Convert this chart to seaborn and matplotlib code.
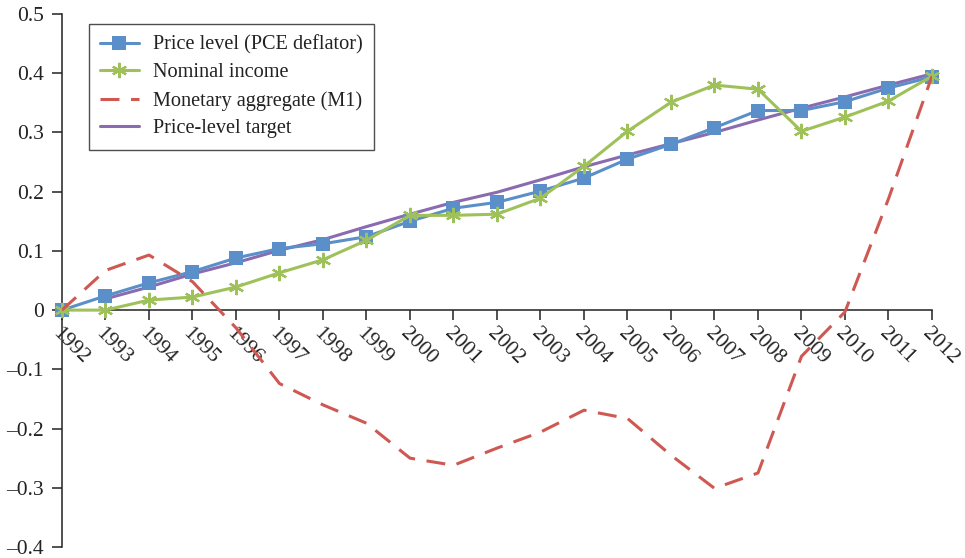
import numpy as np
import pandas as pd
import matplotlib
matplotlib.use("Agg")
import matplotlib.pyplot as plt
import seaborn as sns

# ---------- datos ----------
years = list(range(1992, 2013))

price_level = [0.000, 0.024, 0.046, 0.065, 0.088, 0.104, 0.112, 0.124, 0.150, 0.172,
               0.182, 0.201, 0.223, 0.255, 0.280, 0.308, 0.337, 0.337, 0.352, 0.375, 0.394]
nominal_income = [0.000, 0.000, 0.017, 0.022, 0.039, 0.063, 0.085, 0.118, 0.160, 0.160,
                  0.162, 0.189, 0.243, 0.302, 0.351, 0.380, 0.373, 0.302, 0.326, 0.353, 0.395]
m1 = [0.000, 0.067, 0.093, 0.048, -0.030, -0.124, -0.160, -0.191, -0.250, -0.262,
      -0.233, -0.206, -0.169, -0.183, -0.245, -0.301, -0.275, -0.078, -0.003, 0.188, 0.395]
target = [np.nan, 0.019, 0.039, 0.061, 0.080, 0.101, 0.119, 0.141, 0.162, 0.182,
          0.199, 0.220, 0.242, 0.262, 0.281, 0.300, 0.321, 0.341, 0.360, 0.380, 0.399]

labels = ["Price level (PCE deflator)", "Nominal income",
          "Monetary aggregate (M1)", "Price-level target"]
ytick_vals = [-0.4, -0.3, -0.2, -0.1, 0.0, 0.1, 0.2, 0.3, 0.4, 0.5]
ytick_labels = ['–0.4', '–0.3', '–0.2', '–0.1', '0', '0.1', '0.2', '0.3', '0.4', '0.5']

df = pd.DataFrame({"year": years, labels[0]: price_level, labels[1]: nominal_income,
                   labels[2]: m1, labels[3]: target})

# ---------- estilo ----------
sns.set_style("white")
plt.rcParams['font.family'] = ['Liberation Serif', 'DejaVu Serif']

c_blue, c_green, c_red, c_purple = '#5B8FCA', '#9EC15A', '#CF5853', '#8A6BAF'
c_txt = '#222222'

fig = plt.figure(figsize=(9.65, 5.58), dpi=100)
ax = fig.add_axes([62/965, 1-547/558, (932-62)/965, (547-14)/558])

sns.lineplot(data=df, x="year", y=labels[3], color=c_purple, lw=2.2, ax=ax,
             label=labels[3], zorder=2)
sns.lineplot(data=df, x="year", y=labels[0], color=c_blue, lw=2.2, marker='s',
             markersize=10, markeredgewidth=0, ax=ax, label=labels[0], zorder=3, clip_on=False)
sns.lineplot(data=df, x="year", y=labels[1], color=c_green, lw=2.2, marker=(6, 2, 0),
             markersize=11, markeredgewidth=1.6, markeredgecolor=c_green, ax=ax,
             label=labels[1], zorder=4, clip_on=False)
sns.lineplot(data=df, x="year", y=labels[2], color=c_red, lw=2.2, ax=ax,
             label=labels[2], zorder=5)
ax.lines[-1].set_dashes([6.2, 3.8])

ax.set_xlim(1992, 2012)
ax.set_ylim(-0.4, 0.5)
ax.set_xlabel('')
ax.set_ylabel('')

for s in ['top', 'right']:
    ax.spines[s].set_visible(False)
ax.spines['bottom'].set_position(('data', 0))
for s in ['left', 'bottom']:
    ax.spines[s].set_color(c_txt)
    ax.spines[s].set_linewidth(1.1)

ax.set_xticks(years)
ax.set_xticklabels([str(y) for y in years], rotation=-45, ha='left', va='top',
                   rotation_mode='anchor', fontsize=15.5, color=c_txt)
ax.set_yticks(ytick_vals)
ax.set_yticklabels(ytick_labels, fontsize=15.5, color=c_txt)
ax.tick_params(axis='x', direction='out', length=7, width=1.1, color=c_txt, pad=3)
ax.tick_params(axis='y', direction='out', length=7, width=1.1, color=c_txt, pad=6)
ax.tick_params(axis='both', which='both', bottom=True, left=True)

h, l = ax.get_legend_handles_labels()
order = [l.index(x) for x in labels]
leg = ax.legend([h[i] for i in order], [l[i] for i in order], loc='upper left',
                bbox_to_anchor=(0.031, 0.981), borderaxespad=0, fontsize=14.6,
                frameon=True, fancybox=False, edgecolor=c_txt, handlelength=1.9,
                labelspacing=0.42, borderpad=0.55, handletextpad=0.7)
leg.get_frame().set_linewidth(1.0)
for t in leg.get_texts():
    t.set_color(c_txt)

fig.savefig('out.png', dpi=100)
